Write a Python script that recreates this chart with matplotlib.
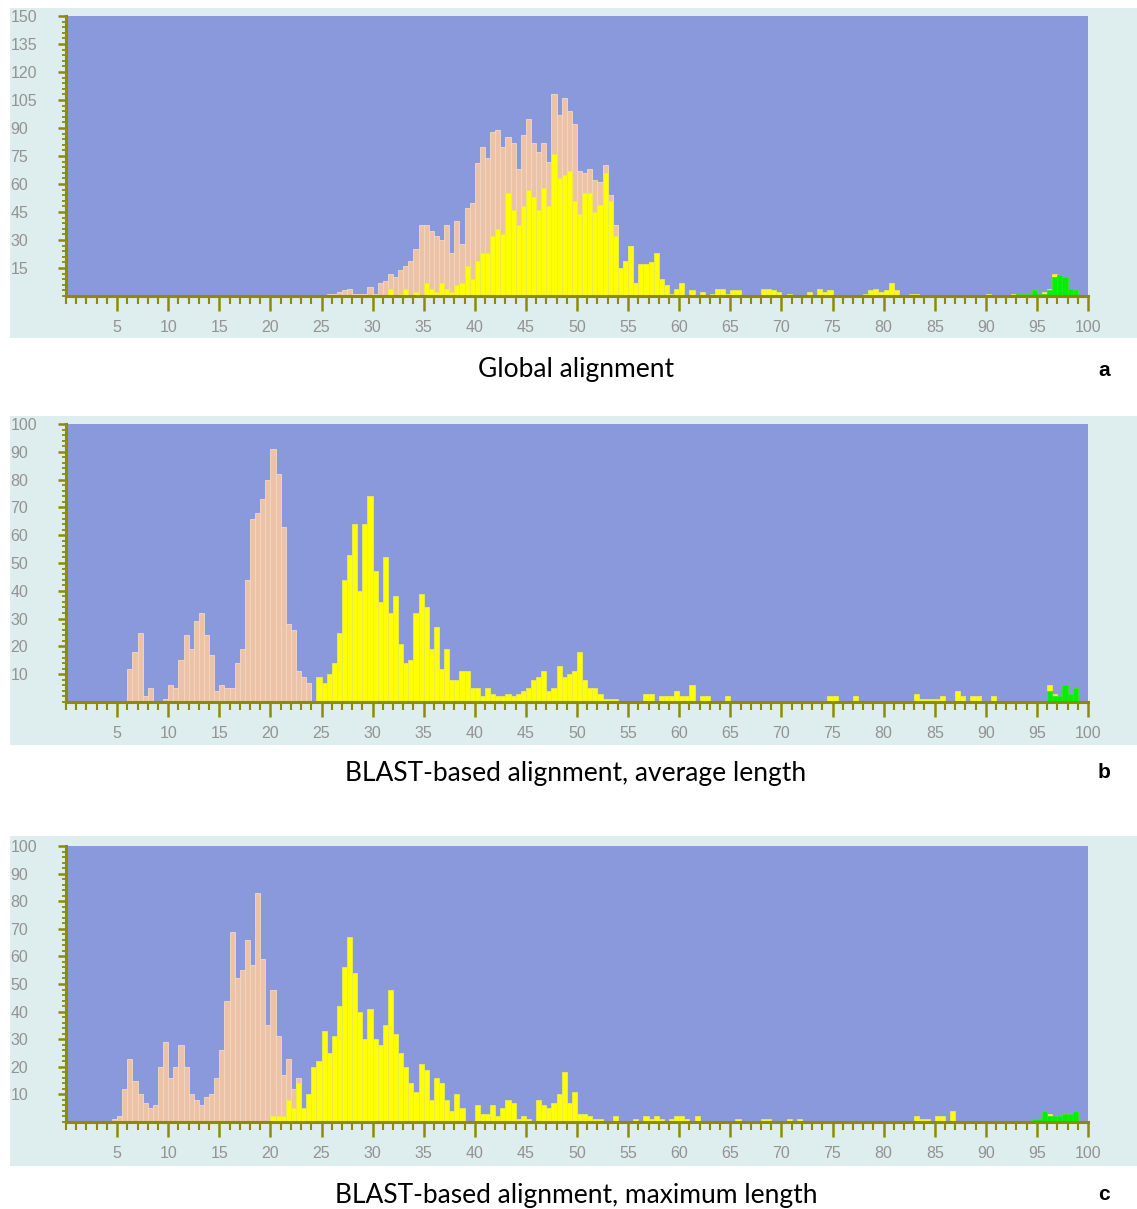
import matplotlib.pyplot as plt
import numpy as np
from matplotlib.patches import Rectangle
from matplotlib.ticker import MultipleLocator

W, H = 1137, 1209

BLUE = '#8a99dc'
PANEL_BG = '#deeded'
PEACH = '#ecc3a6'
YELLOW = '#ffff00'
GREEN = '#00f000'
OLIVE = '#8c8c00'
GREY = '#939393'

# ---- panel a: global alignment (bins of 0.5, values are counts)
a_peach_start = 25.5
a_peach = [1, 1, 2, 3, 4, 1, 1, 1, 5, 1, 7, 8, 12, 10, 14, 16, 19, 25, 38, 38,
           35, 32, 30, 38, 23, 40, 28, 47, 50, 71, 80, 74, 88, 89, 80, 85, 82, 68, 86, 95,
           82, 77, 82, 72, 108, 97, 106, 99, 92, 67, 66, 68, 62, 61, 70, 54, 38, 15, 19, 27, 7]
a_yellow_start = 31.5
a_yellow = [4, 0, 1, 4, 0, 2, 0, 7, 4, 2, 7, 4, 2, 6, 7, 16, 9, 19, 23, 23,
            32, 36, 33, 55, 46, 38, 48, 57, 53, 46, 58, 48, 76, 63, 65, 67, 51, 44, 55, 55,
            45, 49, 66, 51, 32, 15, 19, 27, 7, 17, 17, 18, 23, 9, 6, 1, 4, 7, 0, 3,
            0, 2, 0, 1, 4, 4, 1, 3, 3, 0, 0, 0, 0, 4, 4, 3, 2, 0, 1, 0,
            0, 0, 2, 0, 4, 2, 3, 0, 0, 0, 0, 0, 0, 1, 3, 4, 2, 3, 7, 3, 0, 0, 1, 1]
a_tail_x = [90.0, 92.5, 93.0, 93.5, 94.0, 94.5, 95.0, 95.5, 96.0, 96.5, 97.0, 97.5, 98.0, 98.5]
a_tail = [1, 1, 1, 1, 1, 3, 1, 2, 4, 12, 11, 10, 4, 3]
a_green_x = [93.0, 93.5, 94.0, 94.5, 95.0, 95.5, 96.0, 96.5, 97.0, 97.5, 98.0, 98.5]
a_green = [1, 1, 1, 3, 1, 1, 3, 10, 11, 10, 4, 3]

# ---- panel b: BLAST-based alignment, average length
b_peach_start = 6.0
b_peach = [12, 18, 25, 2, 5, 0, 0, 1, 6, 5, 15, 24, 19, 29, 32, 24, 17, 4, 6, 5,
           5, 14, 19, 44, 66, 68, 73, 80, 91, 82, 63, 28, 26, 11, 9, 7]
b_yellow_start = 24.5
b_yellow = [9, 7, 10, 14, 25, 44, 53, 64, 40, 64, 74, 47, 36, 52, 32, 38, 21, 14, 15, 32,
            39, 34, 19, 27, 12, 19, 8, 8, 11, 11, 5, 5, 2, 5, 3, 2, 2, 3, 2, 3,
            4, 5, 8, 9, 11, 4, 5, 13, 9, 10, 11, 18, 8, 5, 5, 3, 1, 1, 1]
b_tail_x = [56.5, 57.0, 58.0, 58.5, 59.0, 59.5, 60.0, 60.5, 61.0, 62.0, 62.5, 64.5,
            74.5, 75.0, 77.0, 83.0, 83.5, 84.0, 84.5, 85.0, 85.5, 87.0, 87.5, 88.5,
            89.0, 90.5, 96.0, 96.5, 97.0, 97.5, 98.0, 98.5]
b_tail = [3, 3, 2, 2, 2, 4, 2, 2, 6, 2, 2, 2, 2, 2, 2, 3, 1, 1, 1, 1, 2, 4, 2, 2,
          2, 2, 6, 3, 2, 6, 3, 5]
b_green_x = [96.0, 96.5, 97.0, 97.5, 98.0, 98.5]
b_green = [4, 2, 2, 6, 3, 5]

# ---- panel c: BLAST-based alignment, maximum length
c_peach_start = 4.5
c_peach = [1, 2, 12, 23, 15, 10, 7, 5, 6, 20, 29, 16, 20, 28, 20, 10, 8, 6, 9,
           10, 16, 26, 44, 69, 52, 55, 66, 57, 83, 59, 35, 48, 31, 17, 23, 12, 16]
c_yellow_start = 20.0
c_yellow = [2, 2, 2, 8, 5, 14, 5, 10, 20, 22, 33, 25, 31, 42, 56, 67, 54, 40, 30, 41,
            30, 28, 35, 48, 32, 25, 20, 14, 11, 21, 19, 8, 16, 14, 8, 4, 10, 5, 0, 0,
            6, 3, 3, 6, 2, 5, 8, 7, 1, 2, 1, 0, 8, 6, 5, 7, 10, 18, 7, 11,
            3, 3, 2, 1, 1, 0, 0, 2]
c_tail_x = [55.5, 56.5, 57.0, 57.5, 58.0, 59.0, 59.5, 60.0, 60.5, 61.5, 65.5, 68.0,
            68.5, 70.5, 71.5, 83.0, 83.5, 84.0, 85.0, 85.5, 86.5, 94.5, 95.0, 95.5,
            96.0, 96.5, 97.0, 97.5, 98.0, 98.5]
c_tail = [1, 2, 1, 2, 1, 1, 2, 2, 1, 2, 1, 1, 1, 1, 1, 2, 1, 1, 2, 2, 4, 1, 1, 4,
          3, 2, 2, 3, 3, 4]
c_green_x = [94.5, 95.0, 95.5, 96.0, 96.5, 97.0, 97.5, 98.0, 98.5]
c_green = [1, 1, 4, 2, 2, 2, 3, 3, 4]

captions = ['Global alignment', 'BLAST-based alignment, average length',
            'BLAST-based alignment, maximum length']
letters = ['a', 'b', 'c']


def run(start, vals):
    # left edges of consecutive 0.5-wide bins
    return np.arange(len(vals)) * 0.5 + start


panels = [
    dict(peach=(run(a_peach_start, a_peach), a_peach),
         yellow=(np.r_[run(a_yellow_start, a_yellow), a_tail_x], a_yellow + a_tail),
         green=(a_green_x, a_green), ymax=150, ystep=15, yminor=3,
         axes=(16, 296), bg=(8, 338), cap_y=370),
    dict(peach=(run(b_peach_start, b_peach), b_peach),
         yellow=(np.r_[run(b_yellow_start, b_yellow), b_tail_x], b_yellow + b_tail),
         green=(b_green_x, b_green), ymax=100, ystep=10, yminor=2,
         axes=(424, 702), bg=(416, 745), cap_y=773),
    dict(peach=(run(c_peach_start, c_peach), c_peach),
         yellow=(np.r_[run(c_yellow_start, c_yellow), c_tail_x], c_yellow + c_tail),
         green=(c_green_x, c_green), ymax=100, ystep=10, yminor=2,
         axes=(846, 1122), bg=(836, 1166), cap_y=1195),
]

fig = plt.figure(figsize=(W / 100, H / 100), dpi=100)

for p, cap, let in zip(panels, captions, letters):
    top, bot = p['bg']
    fig.patches.append(Rectangle((10 / W, 1 - bot / H), (W - 10) / W, (bot - top) / H,
                                 transform=fig.transFigure, facecolor=PANEL_BG,
                                 edgecolor='none', zorder=-10))
    y0, y1 = p['axes']
    ax = fig.add_axes([66 / W, 1 - y1 / H, (1088 - 66) / W, (y1 - y0) / H])
    ax.set_facecolor(BLUE)

    ax.bar(p['peach'][0], p['peach'][1], width=0.5, align='edge', color=PEACH,
           edgecolor='#f4d8c4', linewidth=0.6, zorder=2)
    ax.bar(p['yellow'][0], p['yellow'][1], width=0.5, align='edge', color=YELLOW,
           edgecolor='#eaea50', linewidth=0.6, zorder=3)
    ax.bar(p['green'][0], p['green'][1], width=0.5, align='edge', color=GREEN,
           edgecolor='#30e030', linewidth=0.6, zorder=4)

    ax.set_xlim(0, 100)
    ax.set_ylim(0, p['ymax'])
    for s in ['top', 'right']:
        ax.spines[s].set_visible(False)
    for s in ['left', 'bottom']:
        ax.spines[s].set_color(OLIVE)
        ax.spines[s].set_linewidth(2.2)
        ax.spines[s].set_zorder(5)

    ax.set_xticks(np.arange(5, 101, 5))
    ax.set_xticklabels([str(v) for v in range(5, 101, 5)])
    ax.xaxis.set_minor_locator(MultipleLocator(1))
    ax.set_yticks(np.arange(p['ystep'], p['ymax'] + 1, p['ystep']))
    ax.yaxis.set_minor_locator(MultipleLocator(p['yminor']))

    ax.tick_params(axis='x', which='major', length=11, width=1.8, color=OLIVE,
                   labelcolor=GREY, labelsize=11.5, pad=6)
    ax.tick_params(axis='x', which='minor', length=6, width=1.5, color=OLIVE)
    ax.tick_params(axis='y', which='major', length=6, width=1.8, color=OLIVE,
                   labelcolor=GREY, labelsize=11.5, pad=34)
    ax.tick_params(axis='y', which='minor', length=3, width=1.3, color=OLIVE)
    for lab in ax.get_yticklabels():
        lab.set_horizontalalignment('left')
    for lab in ax.get_xticklabels() + ax.get_yticklabels():
        lab.set_family('Liberation Sans')

    fig.text(576 / W, 1 - p['cap_y'] / H, cap, ha='center', va='center',
             fontsize=19, family='Lato')
    fig.text(1104 / W, 1 - p['cap_y'] / H, let, ha='center', va='center',
             fontsize=15, fontweight='bold', family='Liberation Sans')

fig.savefig('out.png', dpi=100, facecolor='white')
